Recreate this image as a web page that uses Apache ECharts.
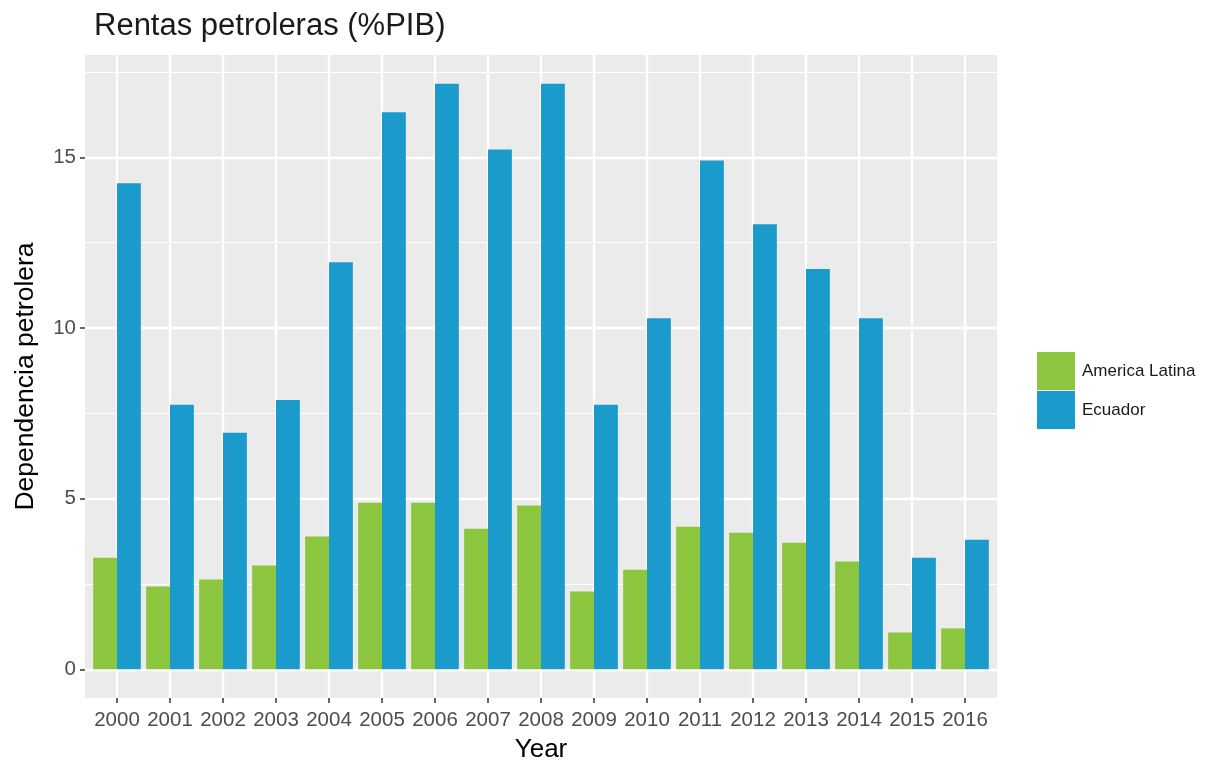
<!DOCTYPE html>
<html>
<head>
<meta charset="utf-8">
<script src="https://cdn.jsdelivr.net/npm/echarts@6/dist/echarts.min.js"></script>
<style>
html,body{margin:0;padding:0;background:#fff;}
#chart{width:1224px;height:762px;}
</style>
</head>
<body>
<div id="chart"></div>
<script>
const years = ['2000','2001','2002','2003','2004','2005','2006','2007','2008','2009','2010','2011','2012','2013','2014','2015','2016'];
const americaLatina = [3.27,2.43,2.63,3.04,3.89,4.88,4.88,4.12,4.80,2.28,2.92,4.18,4.00,3.71,3.16,1.08,1.20];
const ecuador = [14.24,7.75,6.93,7.89,11.93,16.32,17.16,15.23,17.16,7.75,10.29,14.91,13.04,11.73,10.29,3.27,3.80];
const yTicks = [0,5,10,15];
const yMinor = [2.5,7.5,12.5,17.5];
const seriesNames = ['America Latina','Ecuador'];

const Y_MIN = -0.84, Y_MAX = 18.0;
const chart = echarts.init(document.getElementById('chart'), null, {renderer:'canvas'});
const font = 'Liberation Sans, Arial, sans-serif';

const hLines = yTicks.map(v => ({yAxis: v, lineStyle:{color:'#ffffff', width:2.4, type:'solid'}}))
  .concat(yMinor.map(v => ({yAxis: v, lineStyle:{color:'#ffffff', width:1.2, type:'solid'}})));
const vLines = years.map(y => ({xAxis: y, lineStyle:{color:'#ffffff', width:2.4, type:'solid'}}));

chart.setOption({
  animation:false,
  backgroundColor:'#ffffff',
  title:{
    text:'Rentas petroleras (%PIB)',
    left:94, top:11, padding:0,
    textStyle:{fontFamily:font, fontSize:31, fontWeight:'normal', color:'#1a1a1a'}
  },
  legend:{
    data:seriesNames,
    orient:'vertical', left:1037, top:352, padding:0,
    itemWidth:38, itemHeight:38, itemGap:1, icon:'rect',
    textStyle:{fontFamily:font, fontSize:17, color:'#1a1a1a', padding:[0,0,0,2]}
  },
  grid:[
    {left:85, right:1224-997, top:55, bottom:762-698, show:true, backgroundColor:'#EBEBEB', borderWidth:0, containLabel:false, outerBoundsMode:'none'},
    {left:90.5, right:1224-991.5, top:55, bottom:762-698, show:false, containLabel:false, outerBoundsMode:'none'}
  ],
  xAxis:[
    {
      type:'category', gridIndex:1, data:years, position:'bottom',
      name:'Year', nameLocation:'middle', nameGap:39,
      nameTextStyle:{fontFamily:font, fontSize:26, color:'#000'},
      axisLine:{show:false, onZero:false},
      axisTick:{show:true, alignWithLabel:true, length:5, lineStyle:{color:'#333', width:1.5}},
      axisLabel:{fontFamily:font, fontSize:20.5, color:'#4D4D4D', margin:12, interval:0, hideOverlap:false},
      splitLine:{show:false}
    },
    {type:'value', gridIndex:0, min:0, max:1, show:false}
  ],
  yAxis:[
    {
      type:'value', gridIndex:1, min:Y_MIN, max:Y_MAX, offset:5.5,
      name:'Dependencia petrolera', nameLocation:'middle', nameGap:46, nameRotate:90,
      nameTextStyle:{fontFamily:font, fontSize:26.5, color:'#000'},
      axisLine:{show:false, onZero:false},
      axisTick:{show:true, length:5, customValues:yTicks, lineStyle:{color:'#333', width:1.5}},
      axisLabel:{fontFamily:font, fontSize:20.5, color:'#4D4D4D', margin:9, customValues:yTicks},
      splitLine:{show:false}
    },
    {type:'value', gridIndex:0, min:Y_MIN, max:Y_MAX, show:false}
  ],
  series:[
    {
      type:'line', name:'hgrid', xAxisIndex:1, yAxisIndex:1, data:[], z:0, silent:true,
      markLine:{symbol:'none', silent:true, z:0, label:{show:false}, animation:false, data:hLines}
    },
    {
      type:'line', name:'vgrid', xAxisIndex:0, yAxisIndex:0, data:[], z:0, silent:true,
      markLine:{symbol:'none', silent:true, z:0, label:{show:false}, animation:false, data:vLines}
    },
    {
      type:'bar', name:seriesNames[0], xAxisIndex:0, yAxisIndex:0, data:americaLatina,
      barWidth:'45%', barGap:'0%', z:3, itemStyle:{color:'#8CC63F'}
    },
    {
      type:'bar', name:seriesNames[1], xAxisIndex:0, yAxisIndex:0, data:ecuador,
      barWidth:'45%', barGap:'0%', z:3, itemStyle:{color:'#1B9BCB'}
    }
  ]
});
</script>
</body>
</html>
